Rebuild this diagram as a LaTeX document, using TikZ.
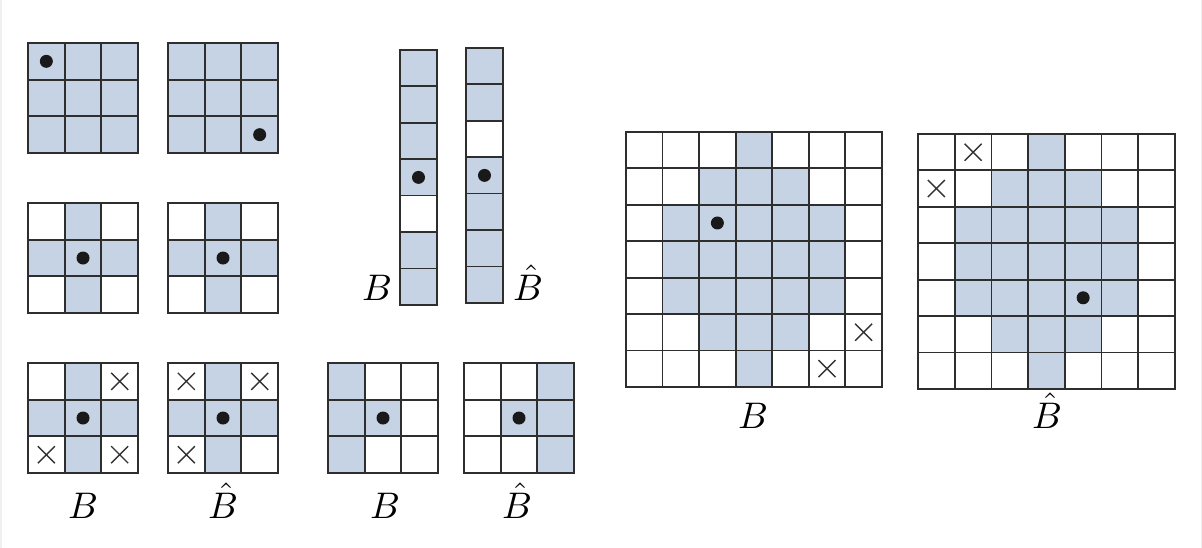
\documentclass[tikz,border=0pt]{standalone}
\usepackage{amsmath}
\usepackage{xcolor}
\usepackage{tikz}

\definecolor{cellblue}{RGB}{198,211,228}

% one board of cells, drawn in the board's own units
\newcommand{\cellgrid}[2]{%
	\foreach \ci in {1,...,#1}{\foreach \ri in {1,...,#2}{
			\draw[cellline] (\ci-1,\ri-1) rectangle (\ci,\ri);}}}
\newcommand{\fillcells}[1]{%
	\foreach \ci/\ri in {#1}{\fill[bluecell] (\ci,\ri) rectangle ++(1,1);}}
\newcommand{\dotat}[2]{\fill[dot] (#1+0.5,#2+0.5) circle[radius=6.5pt];}
\newcommand{\crossat}[2]{\draw[xmark] (#1+0.5,#2+0.5) +(-8.5pt,-8.5pt) -- +(8.5pt,8.5pt)
	+(-8.5pt,8.5pt) -- +(8.5pt,-8.5pt);}

\begin{document}
\begin{tikzpicture}[
		x=1pt, y=-1pt,
		cellline/.style={draw=black!82, line width=1.8pt},
		bluecell/.style={fill=cellblue},
		dot/.style={fill=black!90},
		xmark/.style={draw=black!80, line width=1.4pt},
		small/.style={x=36.67pt, y=-36.67pt},
		big/.style={x=36.55pt, y=-36.4pt},
		lab/.style={scale=3.7, anchor=base, inner sep=0pt}
		]
		
		\useasboundingbox (0,0) rectangle (1202,548);
		\fill[black!6] (0,0) rectangle (1.5,548);
		\fill[black!6] (1200.5,0) rectangle (1202,548);
		
		% Full boards
		\begin{scope}[shift={(28,43)}, small]
			\fillcells{0/0,1/0,2/0,0/1,1/1,2/1,0/2,1/2,2/2}
			\cellgrid{3}{3}
			\dotat{0}{0}
		\end{scope}
		\begin{scope}[shift={(168,43)}, small]
			\fillcells{0/0,1/0,2/0,0/1,1/1,2/1,0/2,1/2,2/2}
			\cellgrid{3}{3}
			\dotat{2}{2}
		\end{scope}
		
		% Cross boards
		\begin{scope}[shift={(28,203)}, small]
			\fillcells{1/0,0/1,1/1,2/1,1/2}
			\cellgrid{3}{3}
			\dotat{1}{1}
		\end{scope}
		\begin{scope}[shift={(168,203)}, small]
			\fillcells{1/0,0/1,1/1,2/1,1/2}
			\cellgrid{3}{3}
			\dotat{1}{1}
		\end{scope}
		
		% Cross boards with excluded cells
		\begin{scope}[shift={(28,363)}, small]
			\fillcells{1/0,0/1,1/1,2/1,1/2}
			\cellgrid{3}{3}
			\dotat{1}{1}
			\crossat{2}{0} \crossat{0}{2} \crossat{2}{2}
		\end{scope}
		\begin{scope}[shift={(168,363)}, small]
			\fillcells{1/0,0/1,1/1,2/1,1/2}
			\cellgrid{3}{3}
			\dotat{1}{1}
			\crossat{0}{0} \crossat{2}{0} \crossat{0}{2}
		\end{scope}
		
		% Column boards
		\begin{scope}[shift={(328,363)}, small]
			\fillcells{0/0,0/1,0/2,1/1}
			\cellgrid{3}{3}
			\dotat{1}{1}
		\end{scope}
		\begin{scope}[shift={(464,363)}, small]
			\fillcells{2/0,2/1,2/2,1/1}
			\cellgrid{3}{3}
			\dotat{1}{1}
		\end{scope}
		
		% Strips
		\begin{scope}[shift={(400,50)}, x=37pt, y=-36.4pt]
			\fillcells{0/0,0/1,0/2,0/3,0/5,0/6}
			\cellgrid{1}{7}
			\dotat{0}{3}
		\end{scope}
		\begin{scope}[shift={(466,48)}, x=37pt, y=-36.4pt]
			\fillcells{0/0,0/1,0/3,0/4,0/5,0/6}
			\cellgrid{1}{7}
			\dotat{0}{3}
		\end{scope}
		
		% Large boards
		\begin{scope}[shift={(626,132)}, big]
			\fillcells{3/0,2/1,3/1,4/1,1/2,2/2,3/2,4/2,5/2,1/3,2/3,3/3,4/3,5/3,
				1/4,2/4,3/4,4/4,5/4,2/5,3/5,4/5,3/6}
			\cellgrid{7}{7}
			\dotat{2}{2}
			\crossat{6}{5} \crossat{5}{6}
		\end{scope}
		\begin{scope}[shift={(918,134)}, x=36.7pt, y=-36.4pt]
			\fillcells{3/0,2/1,3/1,4/1,1/2,2/2,3/2,4/2,5/2,1/3,2/3,3/3,4/3,5/3,
				1/4,2/4,3/4,4/4,5/4,2/5,3/5,4/5,3/6}
			\cellgrid{7}{7}
			\dotat{4}{4}
			\crossat{1}{0} \crossat{0}{1}
		\end{scope}
		
		% Labels
		\node[lab] (labA) at (83,518) {$B$};
		\node[lab] (labAh) at (223,518) {$\hat{B}$};
		\node[lab] (labC) at (385,518) {$B$};
		\node[lab] (labCh) at (517,518) {$\hat{B}$};
		\node[lab] (labS) at (377,300) {$B$};
		\node[lab] (labSh) at (528,300) {$\hat{B}$};
		\node[lab] (labL) at (753,428) {$B$};
		\node[lab] (labLh) at (1047,428) {$\hat{B}$};
		
	\end{tikzpicture}
\end{document}
